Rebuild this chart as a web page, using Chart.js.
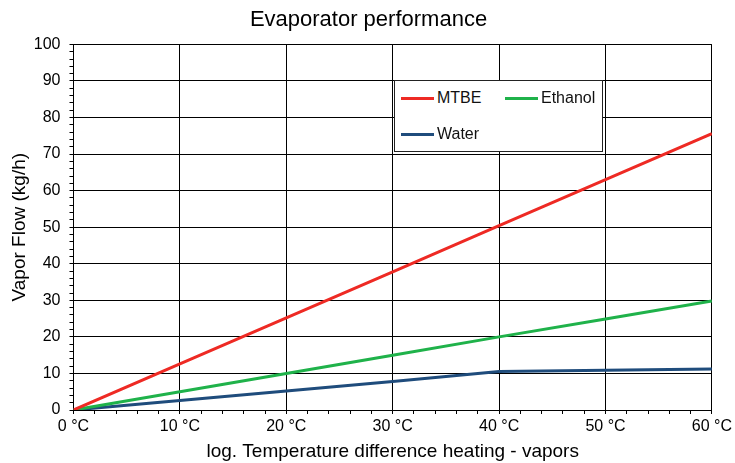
<!DOCTYPE html>
<html lang="en">
<head>
<meta charset="UTF-8" />
<title>Evaporator performance</title>
<style>
  body{margin:0;background:#fff;font-family:"Liberation Sans",Arial,sans-serif;color:#111;}
  #wrap{position:relative;width:735px;height:463px;}
  #legend{position:absolute;left:394px;top:80px;width:209px;height:72px;background:#fff;border:1px solid #222;
          display:grid;grid-template-columns:104px 100px;grid-auto-rows:36px;padding:0 0 0 6px;box-sizing:border-box;}
  .item{display:flex;align-items:center;font-size:16px;transform:translateY(-1px);}
  .item i{display:inline-block;width:33px;height:3px;margin-right:3px;}
</style>
<script src="https://cdn.jsdelivr.net/npm/chart.js"></script>
</head>
<body>
<div id="wrap">
  <canvas id="chart" width="735" height="463"></canvas>
  <div id="legend"></div>
</div>

<script>
// values
const temps   = [0, 10, 20, 30, 40, 50, 60];            // °C
const mtbe    = [0, 12.6, 25.2, 37.8, 50.4, 63.0, 75.6]; // kg/h
const ethanol = [0, 5.0, 10.0, 15.0, 20.0, 24.9, 29.8];
const water   = [0, 2.6, 5.2, 7.8, 10.5, 10.9, 11.2];

const names  = ['MTBE', 'Ethanol', 'Water'];
const colors = ['#ee2a24', '#1fb24a', '#1f4c7c'];
const series = [mtbe, ethanol, water];

const F = '"Liberation Sans", Arial, sans-serif';

const chart = new Chart(document.getElementById('chart'), {
  type: 'line',
  data: {
    datasets: series.map((s, i) => ({
      label: names[i],
      data: temps.map((t, k) => ({x: t, y: s[k]})),
      borderColor: colors[i], backgroundColor: colors[i],
      borderWidth: 3, pointRadius: 0, fill: false, tension: 0
    }))
  },
  options: {
    responsive: false, animation: false,
    layout: {padding: {left: 0, right: -2, top: 0, bottom: 0}},
    plugins: {
      legend: {display: false},
      tooltip: {enabled: false},
      title: {display: true, text: 'Evaporator performance', color: '#000',
              font: {family: F, size: 22, weight: 'normal'}, padding: {top: 7, bottom: 11}}
    },
    scales: {
      x: {
        type: 'linear', min: 0, max: 60,
        border: {color: '#000', width: 1},
        grid: {color: c => c.tick.value % 10 === 0 ? '#000' : 'rgba(0,0,0,0)', tickColor: '#000', tickLength: 4},
        ticks: {stepSize: 2, autoSkip: false, maxRotation: 0, padding: 3, color: '#000',
                font: {family: F, size: 16},
                callback: v => v % 10 === 0 ? v + ' °C' : ''},
        title: {display: true, text: 'log. Temperature difference heating - vapors', color: '#000',
                font: {family: F, size: 19}, padding: {top: 1, bottom: 0}}
      },
      y: {
        min: 0, max: 100,
        border: {color: '#000', width: 1},
        grid: {color: c => c.tick.value % 10 === 0 ? '#000' : 'rgba(0,0,0,0)', tickColor: '#000', tickLength: 4},
        ticks: {stepSize: 2, autoSkip: false, padding: 9, color: '#000',
                font: {family: F, size: 16},
                callback: v => v % 10 === 0 ? v : ''},
        // tick padding is counted twice when the axis is fitted, so the title gives some back
        title: {display: true, text: 'Vapor Flow (kg/h)', color: '#000',
                font: {family: F, size: 19}, padding: {top: 8, bottom: -6}}
      }
    }
  }
});

// legend box built from the datasets
const lg = document.getElementById('legend');
chart.data.datasets.forEach(d => {
  const el = document.createElement('div');
  el.className = 'item';
  el.innerHTML = '<i style="background:' + d.borderColor + '"></i>' + d.label;
  lg.appendChild(el);
});
</script>
</body>
</html>
